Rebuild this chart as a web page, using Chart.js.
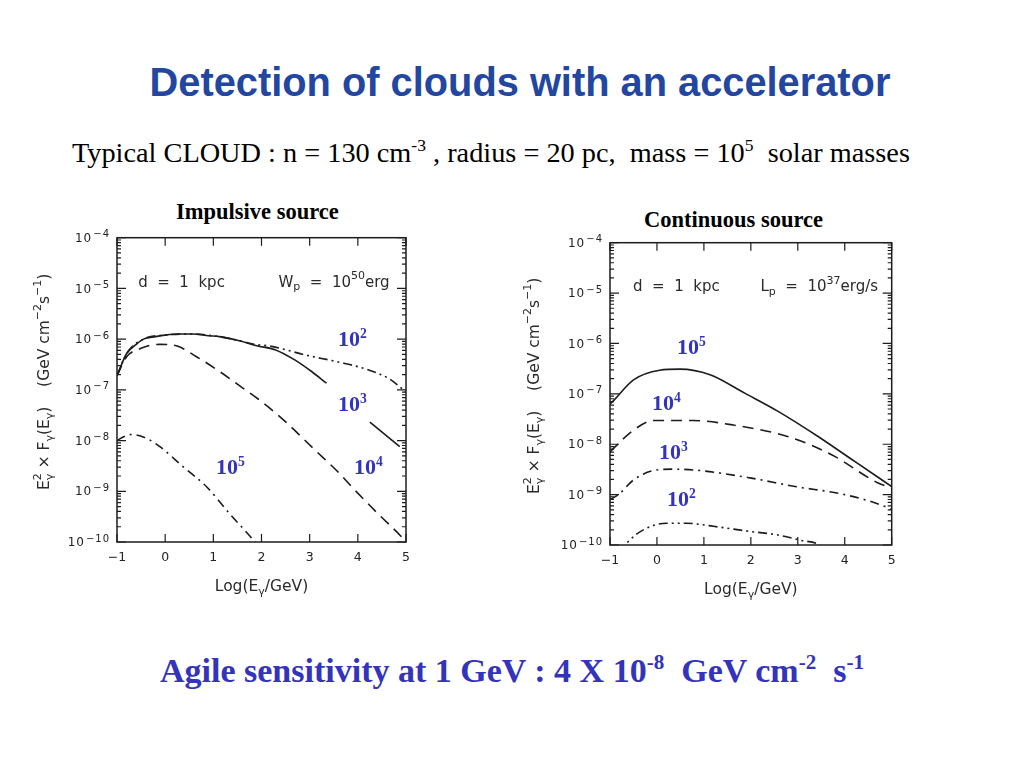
<!DOCTYPE html>
<html>
<head>
<meta charset="utf-8">
<script src="https://cdn.jsdelivr.net/npm/chart.js@4.4.1/dist/chart.umd.min.js"></script>
<style>
  body { margin: 0; background: #fff; width: 1024px; height: 768px; position: relative; overflow: hidden; }
  .abs { position: absolute; white-space: pre; line-height: 1; }
  .sup { font-size: 62%; position: relative; top: -0.6em; }
  #title { left: 8px; width: 1024px; top: 60px; text-align: center; font: bold 39.8px "Liberation Sans", Arial, sans-serif; color: #2346a0; }
  #subtitle { left: 72px; top: 137px; font: 28.3px "Liberation Serif", "Times New Roman", serif; color: #000; }
  .panel-title { font: bold 22.5px "Liberation Serif", "Times New Roman", serif; color: #000; }
  .blue { font: bold 22px "Liberation Serif", "Times New Roman", serif; color: #3333bb; }
  #bottom { left: 160px; top: 652px; font: bold 34px "Liberation Serif", "Times New Roman", serif; color: #3333bb; }
  canvas { position: absolute; }
</style>
</head>
<body>
<div id="title" class="abs">Detection of clouds with an accelerator</div>
<div id="subtitle" class="abs">Typical CLOUD : n = 130 cm<span class="sup">-3</span> , radius = 20 pc,  mass = 10<span class="sup">5</span>  solar masses</div>

<div class="abs panel-title" style="left:176px; top:199px;">Impulsive source</div>
<div class="abs panel-title" style="left:644px; top:207px;">Continuous source</div>

<canvas id="impulsive" width="390" height="385" style="left:30px; top:225px;"></canvas>
<canvas id="continuous" width="390" height="385" style="left:520px; top:228px;"></canvas>

<!-- curve labels (cloud density) -->
<div class="abs blue" style="left:338px; top:326px;">10<span class="sup">2</span></div>
<div class="abs blue" style="left:338px; top:391px;">10<span class="sup">3</span></div>
<div class="abs blue" style="left:216px; top:454px;">10<span class="sup">5</span></div>
<div class="abs blue" style="left:354px; top:454px;">10<span class="sup">4</span></div>

<div class="abs blue" style="left:677px; top:334px;">10<span class="sup">5</span></div>
<div class="abs blue" style="left:652px; top:390px;">10<span class="sup">4</span></div>
<div class="abs blue" style="left:659px; top:439px;">10<span class="sup">3</span></div>
<div class="abs blue" style="left:667px; top:486px;">10<span class="sup">2</span></div>

<div id="bottom" class="abs">Agile sensitivity at 1 GeV : 4 X 10<span class="sup">-8</span>  GeV cm<span class="sup">-2</span>  s<span class="sup">-1</span></div>

<script>
// --- DATA ---
const X_TICKS = [-1, 0, 1, 2, 3, 4, 5];
const Y_DECADES = [-10, -9, -8, -7, -6, -5, -4];

// Impulsive source, W_p = 1e50 erg
const imp_1e2_x = [-1, -0.8, -0.45, 0, 0.57, 1.13, 1.5, 1.86, 2.21, 2.9, 3.59, 4.15, 4.63, 4.91, 5.0];
const imp_1e2_y = [1.9e-7, 5.2e-7, 1.0e-6, 1.2e-6, 1.26e-6, 1.12e-6, 9.5e-7, 7.9e-7, 7.2e-7, 4.9e-7, 3.55e-7, 2.6e-7, 1.7e-7, 1.07e-7, 8.9e-8];

const imp_1e3_x = [-1, -0.8, -0.6, -0.45, -0.2, 0, 0.3, 0.57, 0.9, 1.13, 1.5, 1.9, 2.28, 2.69, 3.04, 3.35, 3.8, 4.25, 4.87];
const imp_1e3_y = [1.9e-7, 5.2e-7, 7.9e-7, 1.0e-6, 1.12e-6, 1.2e-6, 1.26e-6, 1.26e-6, 1.17e-6, 1.12e-6, 9.5e-7, 7.4e-7, 6.2e-7, 3.9e-7, 2.3e-7, 1.35e-7, null, 2.3e-8, 7.6e-9];

const imp_1e4_x = [-1, -0.8, -0.5, -0.3, -0.11, 0.23, 0.65, 1.13, 1.62, 1.93, 2.42, 3.11, 3.59, 3.94, 4.42, 4.94, 5.0];
const imp_1e4_y = [1.9e-7, 4.5e-7, 6.6e-7, 7.6e-7, 7.9e-7, 7.4e-7, 4.5e-7, 2.3e-7, 1.07e-7, 6.6e-8, 2.75e-8, 6.5e-9, 2.4e-9, 1.05e-9, 3.6e-10, 1.17e-10, 1.0e-10];

const imp_1e5_x = [-1, -0.85, -0.7, -0.4, -0.11, 0.38, 0.86, 1.34, 1.83, 2.0];
const imp_1e5_y = [1.0e-8, 1.2e-8, 1.32e-8, 1.12e-8, 7.6e-9, 3.0e-9, 1.23e-9, 3.6e-10, 1.1e-10, 7e-11];

// Continuous source, L_p = 1e37 erg/s
const con_1e5_x = [-1, -0.94, -0.5, 0.06, 0.49, 1.13, 1.88, 2.58, 3.44, 4.22, 5.0];
const con_1e5_y = [6.3e-8, 7.1e-8, 1.9e-7, 2.95e-7, 3.1e-7, 2.4e-7, 1.02e-7, 4.5e-8, 1.41e-8, 4.5e-9, 1.45e-9];

const con_1e4_x = [-1, -0.5, -0.08, 0.77, 1.63, 2.8, 3.72, 4.71, 5.0];
const con_1e4_y = [7.1e-9, 1.9e-8, 2.95e-8, 2.95e-8, 2.4e-8, 1.41e-8, 6.2e-9, 1.7e-9, 1.35e-9];

const con_1e3_x = [-1, -0.82, -0.5, -0.08, 0.35, 0.92, 1.98, 2.94, 4.0, 4.86, 5.0];
const con_1e3_y = [7.9e-10, 1.0e-9, 1.95e-9, 3.0e-9, 3.2e-9, 3.0e-9, 2.15e-9, 1.45e-9, 1.0e-9, 5.8e-10, 5.0e-10];

const con_1e2_x = [-0.8, -0.64, -0.29, 0.21, 0.63, 1.2, 1.98, 2.58, 3.08, 3.4, 3.6];
const con_1e2_y = [7e-11, 1.1e-10, 2.0e-10, 2.7e-10, 2.7e-10, 2.35e-10, 1.86e-10, 1.58e-10, 1.23e-10, 1.07e-10, 8e-11];

// --- STYLES ---
const INK = '#1c1c1c';
const FONT = '"DejaVu Sans", "Liberation Sans", Arial, sans-serif';
const DASH = {
  solid: [],
  dashed: [11, 7],
  dashDot: [9, 5, 2, 5],
  dashDotDot: [9, 4, 2, 4, 2, 4],
};

function series(xs, ys, dash) {
  return {
    data: xs.map((x, i) => ({ x, y: ys[i] })),
    borderColor: INK,
    borderWidth: 1.6,
    borderDash: dash,
    pointRadius: 0,
    cubicInterpolationMode: 'monotone',
    spanGaps: false,
  };
}

// text with sub/superscripts: parts = [text, mode, noAdvance]
function drawRich(ctx, parts, x, y, align, size) {
  const fontFor = (m) => (m ? Math.round(size * 0.7) : size) + 'px ' + FONT;
  let w = 0;
  for (const [t, m, still] of parts) { ctx.font = fontFor(m); if (!still) w += ctx.measureText(t).width; }
  let cx = align === 'right' ? x - w : align === 'center' ? x - w / 2 : x;
  for (const [t, m, still] of parts) {
    ctx.font = fontFor(m);
    const dy = m === 'sup' ? -size * 0.42 : m === 'sub' ? size * 0.32 : 0;
    ctx.fillText(t, cx, y + dy);
    if (!still) cx += ctx.measureText(t).width;
  }
}

const frameAndTicks = {
  id: 'frameAndTicks',
  afterDatasetsDraw(chart, args, opts) {
    const { ctx, chartArea: a, scales: { x, y } } = chart;
    ctx.save();
    ctx.strokeStyle = INK;
    ctx.fillStyle = '#222';
    ctx.setLineDash([]);

    ctx.lineWidth = 1.5;
    ctx.strokeRect(a.left, a.top, a.right - a.left, a.bottom - a.top);

    ctx.lineWidth = 1.2;
    ctx.beginPath();
    X_TICKS.forEach((v) => {
      const px = x.getPixelForValue(v);
      ctx.moveTo(px, a.bottom); ctx.lineTo(px, a.bottom - 8);
      ctx.moveTo(px, a.top); ctx.lineTo(px, a.top + 8);
    });
    Y_DECADES.forEach((e) => {
      for (let m = 1; m <= 9; m++) {
        if (e === Y_DECADES[Y_DECADES.length - 1] && m > 1) break;
        const py = y.getPixelForValue(m * Math.pow(10, e));
        const len = m === 1 ? 9 : 4;
        ctx.moveTo(a.left, py); ctx.lineTo(a.left + len, py);
        ctx.moveTo(a.right, py); ctx.lineTo(a.right - len, py);
      }
    });
    ctx.stroke();

    // y tick labels 10^e (the scanned figure uses a wide face)
    ctx.textBaseline = 'middle';
    Y_DECADES.forEach((e) => {
      const py = y.getPixelForValue(Math.pow(10, e));
      const exp = '\u2212' + Math.abs(e);
      ctx.letterSpacing = '1px';
      ctx.font = '10px ' + FONT;
      const ew = ctx.measureText(exp).width;
      ctx.textAlign = 'right';
      ctx.font = '12px ' + FONT;
      ctx.fillText('10', a.left - 8 - ew, py + 1);
      ctx.textAlign = 'left';
      ctx.font = '10px ' + FONT;
      ctx.fillText(exp, a.left - 7 - ew, py - 3);
      ctx.letterSpacing = '0px';
    });

    // axis titles
    ctx.fillStyle = '#2a2a2a';
    ctx.textAlign = 'left';
    drawRich(ctx, [['Log(E', ''], ['\u03b3', 'sub'], ['/GeV)', '']],
      (a.left + a.right) / 2, a.bottom + 45, 'center', 15.5);
    ctx.save();
    ctx.translate(a.left - opts.yTitleOffset, (a.top + a.bottom) / 2 - 8);
    ctx.rotate(-Math.PI / 2);
    drawRich(ctx, [['E', ''], ['\u03b3', 'sub', true], ['2', 'sup'], [' \u00d7 F', ''], ['\u03b3', 'sub'], ['(E', ''],
      ['\u03b3', 'sub'], [')    (GeV cm', ''], ['\u22122', 'sup'], ['s', ''], ['\u22121', 'sup'], [')', '']],
      0, 0, 'center', 15.5);
    ctx.restore();

    // in-plot annotations
    opts.notes.forEach((n) => {
      drawRich(ctx, n.parts, x.getPixelForValue(n.x), y.getPixelForValue(n.y), n.align, 15);
    });
    ctx.restore();
  },
};

function makeChart(id, datasets, layout, notes) {
  return new Chart(document.getElementById(id), {
    type: 'line',
    data: { datasets },
    options: {
      responsive: false,
      animation: false,
      layout: { padding: { top: layout.top, right: layout.right, left: 0, bottom: 0 } },
      plugins: {
        legend: { display: false },
        tooltip: { enabled: false },
        frameAndTicks: { notes, yTitleOffset: layout.yTitleOffset },
      },
      scales: {
        x: {
          type: 'linear', min: -1, max: 5,
          grid: { display: false, drawTicks: false },
          border: { display: false },
          ticks: {
            stepSize: 1, padding: 8, color: '#222',
            font: { family: FONT, size: 12.5 },
            callback: (v) => String(v).replace('-', '\u2212'),
          },
          afterFit: (s) => { s.height = 68; },
        },
        y: {
          type: 'logarithmic', min: 1e-10, max: 1e-4,
          grid: { display: false, drawTicks: false },
          border: { display: false },
          ticks: { display: false },
          afterFit: (s) => { s.width = layout.yWidth; },
        },
      },
    },
    plugins: [frameAndTicks],
  });
}

makeChart('impulsive', [
  series(imp_1e2_x, imp_1e2_y, DASH.dashDotDot),
  series(imp_1e4_x, imp_1e4_y, DASH.dashed),
  series(imp_1e5_x, imp_1e5_y, DASH.dashDot),
  series(imp_1e3_x, imp_1e3_y, DASH.solid),
], { top: 12.7, right: 14, yWidth: 87, yTitleOffset: 72 }, [
  { x: -0.56, y: 1.3e-5, align: 'left', parts: [['d  =  1  kpc', '']] },
  { x: 4.66, y: 1.3e-5, align: 'right', parts: [['W', ''], ['p', 'sub'], ['  =  10', ''], ['50', 'sup'], ['erg', '']] },
]);

makeChart('continuous', [
  series(con_1e5_x, con_1e5_y, DASH.solid),
  series(con_1e4_x, con_1e4_y, DASH.dashed),
  series(con_1e3_x, con_1e3_y, DASH.dashDot),
  series(con_1e2_x, con_1e2_y, DASH.dashDotDot),
], { top: 14.7, right: 18.3, yWidth: 90, yTitleOffset: 75 }, [
  { x: -0.51, y: 1.3e-5, align: 'left', parts: [['d  =  1  kpc', '']] },
  { x: 4.71, y: 1.3e-5, align: 'right', parts: [['L', ''], ['p', 'sub'], ['  =  10', ''], ['37', 'sup'], ['erg/s', '']] },
]);
</script>
</body>
</html>
